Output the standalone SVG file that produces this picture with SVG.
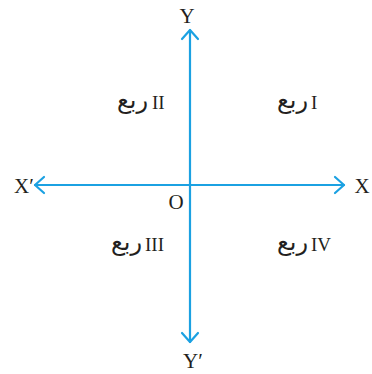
<svg xmlns="http://www.w3.org/2000/svg" width="372" height="374" viewBox="0 0 372 374">
<style>
.ax{stroke:#1ba1e2;stroke-width:2.2;fill:none;stroke-linecap:round;stroke-linejoin:round}
.lb{font-family:"Liberation Serif",serif;font-size:21px;fill:#231f20}
.rn{font-family:"Liberation Serif",serif;font-size:19px;fill:#231f20}
.ur{font-family:"DejaVu Sans","Noto Sans",sans-serif;font-size:24px;fill:#231f20}
</style>
<rect width="372" height="374" fill="#fff"/>
<g id="connectors">
<line class="ax" x1="35" y1="185" x2="344" y2="185"/>
<line class="ax" x1="190" y1="30" x2="190" y2="342"/>
<polyline class="ax" points="44,177 35,185 44,193"/>
<polyline class="ax" points="335,177 344,185 335,193"/>
<polyline class="ax" points="182,39 190,30 198,39"/>
<polyline class="ax" points="182,333 190,342 198,333"/>
</g>
<g id="Y"><text class="lb" x="187" y="23" text-anchor="middle">Y</text></g>
<g id="Yp"><text class="lb" x="193" y="368" text-anchor="middle">Y′</text></g>
<g id="X"><text class="lb" x="362" y="193" text-anchor="middle">X</text></g>
<g id="Xp"><text class="lb" x="24" y="193" text-anchor="middle">X′</text></g>
<g id="O"><text class="lb" x="176" y="209" text-anchor="middle">O</text></g>
<g id="q2"><text class="ur" x="148" y="108" text-anchor="end">ربع</text><text class="rn" x="152" y="109">II</text></g>
<g id="q1"><text class="ur" x="308" y="108" text-anchor="end">ربع</text><text class="rn" x="311" y="109">I</text></g>
<g id="q3"><text class="ur" x="142" y="250" text-anchor="end">ربع</text><text class="rn" x="145" y="251">III</text></g>
<g id="q4"><text class="ur" x="308" y="250" text-anchor="end">ربع</text><text class="rn" x="311" y="251">IV</text></g>
</svg>
